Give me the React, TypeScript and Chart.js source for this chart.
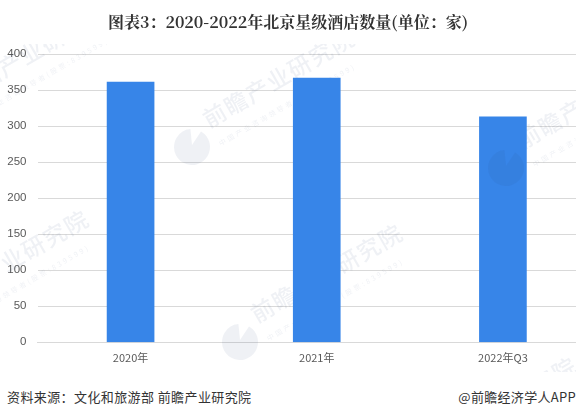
import React, { useEffect, useRef } from "react";
import { Chart, registerables } from "chart.js";

Chart.register(...registerables);

const categories = ["2020年", "2021年", "2022年Q3"];
const hotelCounts = [361.5, 367, 313];
const yTicks = [0, 50, 100, 150, 200, 250, 300, 350, 400];
const titleText = "图表3：2020-2022年北京星级酒店数量(单位：家)";
const sourceText = "资料来源：文化和旅游部 前瞻产业研究院";
const brandText = "@前瞻经济学人APP";
const watermarkText = "前瞻产业研究院";
const watermarkSubText = "中国产业咨询领导者(股票:839599)";
const watermarkLogos = [
  [-55, 121], [-74, 328], [192, 147], [240, 342], [506, 168], [414, 475],
];

const tint = "rgba(40,70,120,0.075)";
const clipWatermark = (ctx: any) => {
  ctx.beginPath();
  ctx.rect(0, 44, 596, 340);
  ctx.clip();
  ctx.fillStyle = tint;
};

const watermark = {
  id: "watermark",
  beforeDatasetsDraw(chart: any) {
    const { ctx } = chart;
    const angle = (-30 * Math.PI) / 180;
    ctx.save();
    clipWatermark(ctx);
    watermarkLogos.forEach(([x, y]) => {
      ctx.save();
      ctx.translate(x + 23, y - 32);
      ctx.rotate(angle);
      ctx.textBaseline = "middle";
      ctx.font = '500 23px "Noto Sans CJK SC"';
      ctx.letterSpacing = "1.5px";
      ctx.fillText(watermarkText, -12, 0);
      ctx.restore();

      ctx.save();
      ctx.translate(x + 31, y - 5);
      ctx.rotate(angle);
      ctx.textBaseline = "middle";
      ctx.font = '7px "Noto Sans CJK SC"';
      ctx.letterSpacing = "2.5px";
      ctx.fillText(watermarkSubText, -4, 0);
      ctx.restore();
    });
    ctx.restore();
  },
  afterDatasetsDraw(chart: any) {
    const { ctx } = chart;
    ctx.save();
    clipWatermark(ctx);
    watermarkLogos.forEach(([x, y]) => {
      ctx.beginPath();
      ctx.moveTo(x, y - 2);
      ctx.arc(x, y, 18, (-60 * Math.PI) / 180, (-95 * Math.PI) / 180);
      ctx.closePath();
      ctx.fill();
    });
    ctx.restore();
  },
};

export default function App() {
  const ref = useRef<HTMLCanvasElement>(null);
  useEffect(() => {
    document.body.style.margin = "0";
    const chart = new Chart(ref.current!, {
      type: "bar",
      data: {
        labels: categories,
        datasets: [{ data: hotelCounts, backgroundColor: "#3785E8", barThickness: 47 }],
      },
      plugins: [watermark],
      options: {
        animation: false,
        responsive: false,
        devicePixelRatio: 1,
        layout: { padding: { left: 0, right: 0, top: 54.3, bottom: 0 } },
        plugins: {
          legend: { display: false },
          tooltip: { enabled: false },
        },
        scales: {
          x: {
            afterFit: (axis: any) => {
              axis.height = 29.7;
            },
            grid: { display: false },
            border: { color: "#d9d9d9" },
            ticks: { color: "#595959", font: { size: 11, family: '"Noto Sans CJK SC"' }, maxRotation: 0, padding: 1 },
          },
          y: {
            min: 0,
            max: 400,
            afterFit: (axis: any) => {
              axis.width = 37.5;
            },
            afterBuildTicks: (axis: any) => {
              axis.ticks = yTicks.map((value) => ({ value }));
            },
            grid: { color: "#d9d9d9", drawTicks: false },
            border: { display: false },
            ticks: { color: "#595959", font: { size: 11.5, family: '"Liberation Sans"' }, padding: 11 },
          },
        },
      },
    });
    return () => chart.destroy();
  }, []);
  return (
    <div style={{ position: "relative", width: 576, height: 418, overflow: "hidden", background: "#fff" }}>
      <canvas ref={ref} width={596} height={372} style={{ display: "block" }} />
      <div style={{ position: "absolute", left: 0, width: 576, top: 10, textAlign: "center", font: 'bold 16px "Noto Serif CJK SC","Noto Sans CJK SC",serif', color: "#333", whiteSpace: "nowrap" }}>{titleText}</div>
      <div style={{ position: "absolute", left: 7, top: 387, font: '13px "Noto Sans CJK SC"', color: "#333", letterSpacing: 0.4, whiteSpace: "nowrap" }}>{sourceText}</div>
      <div style={{ position: "absolute", right: 0, top: 387, font: '13px "Noto Sans CJK SC"', color: "#333", letterSpacing: 0.3, whiteSpace: "nowrap" }}>{brandText}</div>
    </div>
  );
}
